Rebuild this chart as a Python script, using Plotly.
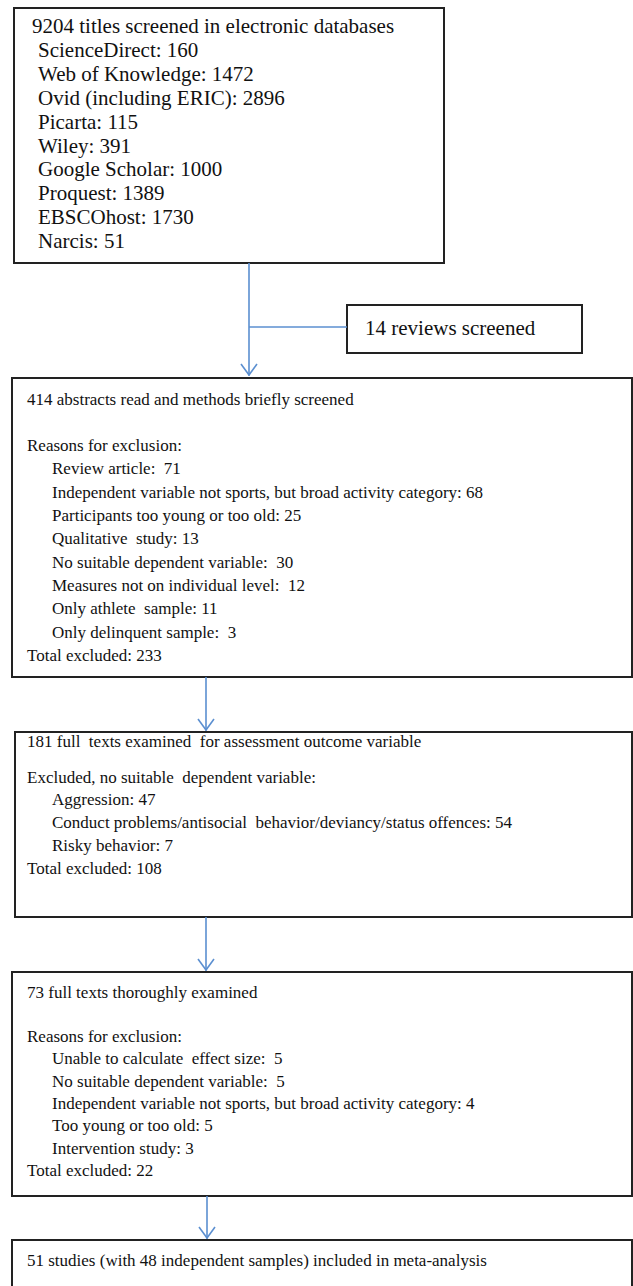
import plotly.graph_objects as go

# ---- content (text of the flow diagram) ----
search_header = "9204 titles screened in electronic databases"
search_sources = ["ScienceDirect: 160", "Web of Knowledge: 1472", "Ovid (including ERIC): 2896",
                  "Picarta: 115", "Wiley: 391", "Google Scholar: 1000", "Proquest: 1389",
                  "EBSCOhost: 1730", "Narcis: 51"]
reviews_text = "14 reviews screened"
abstracts_header = "414 abstracts read and methods briefly screened"
abstracts_label = "Reasons for exclusion:"
abstracts_reasons = ["Review article:  71",
                     "Independent variable not sports, but broad activity category: 68",
                     "Participants too young or too old: 25",
                     "Qualitative  study: 13",
                     "No suitable dependent variable:  30",
                     "Measures not on individual level:  12",
                     "Only athlete  sample: 11",
                     "Only delinquent sample:  3"]
abstracts_total = "Total excluded: 233"
fulltext_header = "181 full  texts examined  for assessment outcome variable"
fulltext_label = "Excluded, no suitable  dependent variable:"
fulltext_reasons = ["Aggression: 47",
                    "Conduct problems/antisocial  behavior/deviancy/status offences: 54",
                    "Risky behavior: 7"]
fulltext_total = "Total excluded: 108"
thorough_header = "73 full texts thoroughly examined"
thorough_label = "Reasons for exclusion:"
thorough_reasons = ["Unable to calculate  effect size:  5",
                    "No suitable dependent variable:  5",
                    "Independent variable not sports, but broad activity category: 4",
                    "Too young or too old: 5",
                    "Intervention study: 3"]
thorough_total = "Total excluded: 22"
final_text = "51 studies (with 48 independent samples) included in meta-analysis"

# ---- layout & style ----
W, H = 633, 1286
FAMILY = "Liberation Serif, Times New Roman, serif"
FONT_BIG = dict(family=FAMILY, size=21, color="#111111")
FONT = dict(family=FAMILY, size=17, color="#111111")
BOX_LINE = dict(color="#222222", width=2)
ARROW = dict(color="#5b8fd0", width=1.6)

fig = go.Figure()
shapes = []
annotations = []


def box(x0, y0, x1, y1):
    shapes.append(dict(type="rect", x0=x0, y0=y0, x1=x1, y1=y1, line=BOX_LINE,
                       fillcolor="white", layer="below"))


def text(x, y, s, font=FONT):
    annotations.append(dict(x=x, y=y, text=s, showarrow=False, xanchor="left",
                            yanchor="middle", font=font, xref="x", yref="y"))


def line(x0, y0, x1, y1):
    shapes.append(dict(type="line", x0=x0, y0=y0, x1=x1, y1=y1, line=ARROW, layer="above"))


def arrow_down(x, y0, y1):
    line(x, y0, x, y1)
    line(x - 8, y1 - 12, x, y1 - 1)
    line(x + 8, y1 - 12, x, y1 - 1)


def block(x_text, x_ind, y_first, step, items, font=FONT):
    y = y_first
    for it in items:
        if it is not None:
            ind, s = it
            text(x_ind if ind else x_text, y, s, font)
        y += step


# Box 1: search
box(14, 8, 444, 263)
block(30, 36, 26, 23.9, [(False, search_header)] + [(True, s) for s in search_sources], FONT_BIG)

# Reviews side box and branch
box(347, 305, 582, 353)
text(363, 328, reviews_text, FONT_BIG)
arrow_down(249, 263, 376)
line(249, 327, 347, 327)

# Box 2: abstracts
box(12, 378, 632, 677)
block(25, 50, 399, 23.3, [(False, abstracts_header), None, (False, abstracts_label)]
      + [(True, s) for s in abstracts_reasons] + [(False, abstracts_total)])

# Box 3: full texts
arrow_down(206, 677, 731)
box(15, 732, 632, 917)
text(25, 741, fulltext_header)
block(25, 50, 777, 22.8, [(False, fulltext_label)] + [(True, s) for s in fulltext_reasons]
      + [(False, fulltext_total)])

# Box 4: thorough examination
arrow_down(206, 917, 971)
box(12, 972, 632, 1196)
block(25, 50, 992, 22.3, [(False, thorough_header), None, (False, thorough_label)]
      + [(True, s) for s in thorough_reasons] + [(False, thorough_total)])

# Box 5: included
arrow_down(207, 1196, 1239)
box(12, 1240, 632, 1300)
text(25, 1260, final_text)

fig.update_layout(
    width=W, height=H,
    margin=dict(l=0, r=0, t=0, b=0),
    paper_bgcolor="white", plot_bgcolor="white",
    xaxis=dict(range=[0, W], visible=False, fixedrange=True),
    yaxis=dict(range=[H, 0], visible=False, fixedrange=True),
    shapes=shapes, annotations=annotations, showlegend=False,
)
fig.write_html("out.html", config={"displayModeBar": False},
               post_script="document.body.style.margin='0';document.body.style.overflow='hidden';")
